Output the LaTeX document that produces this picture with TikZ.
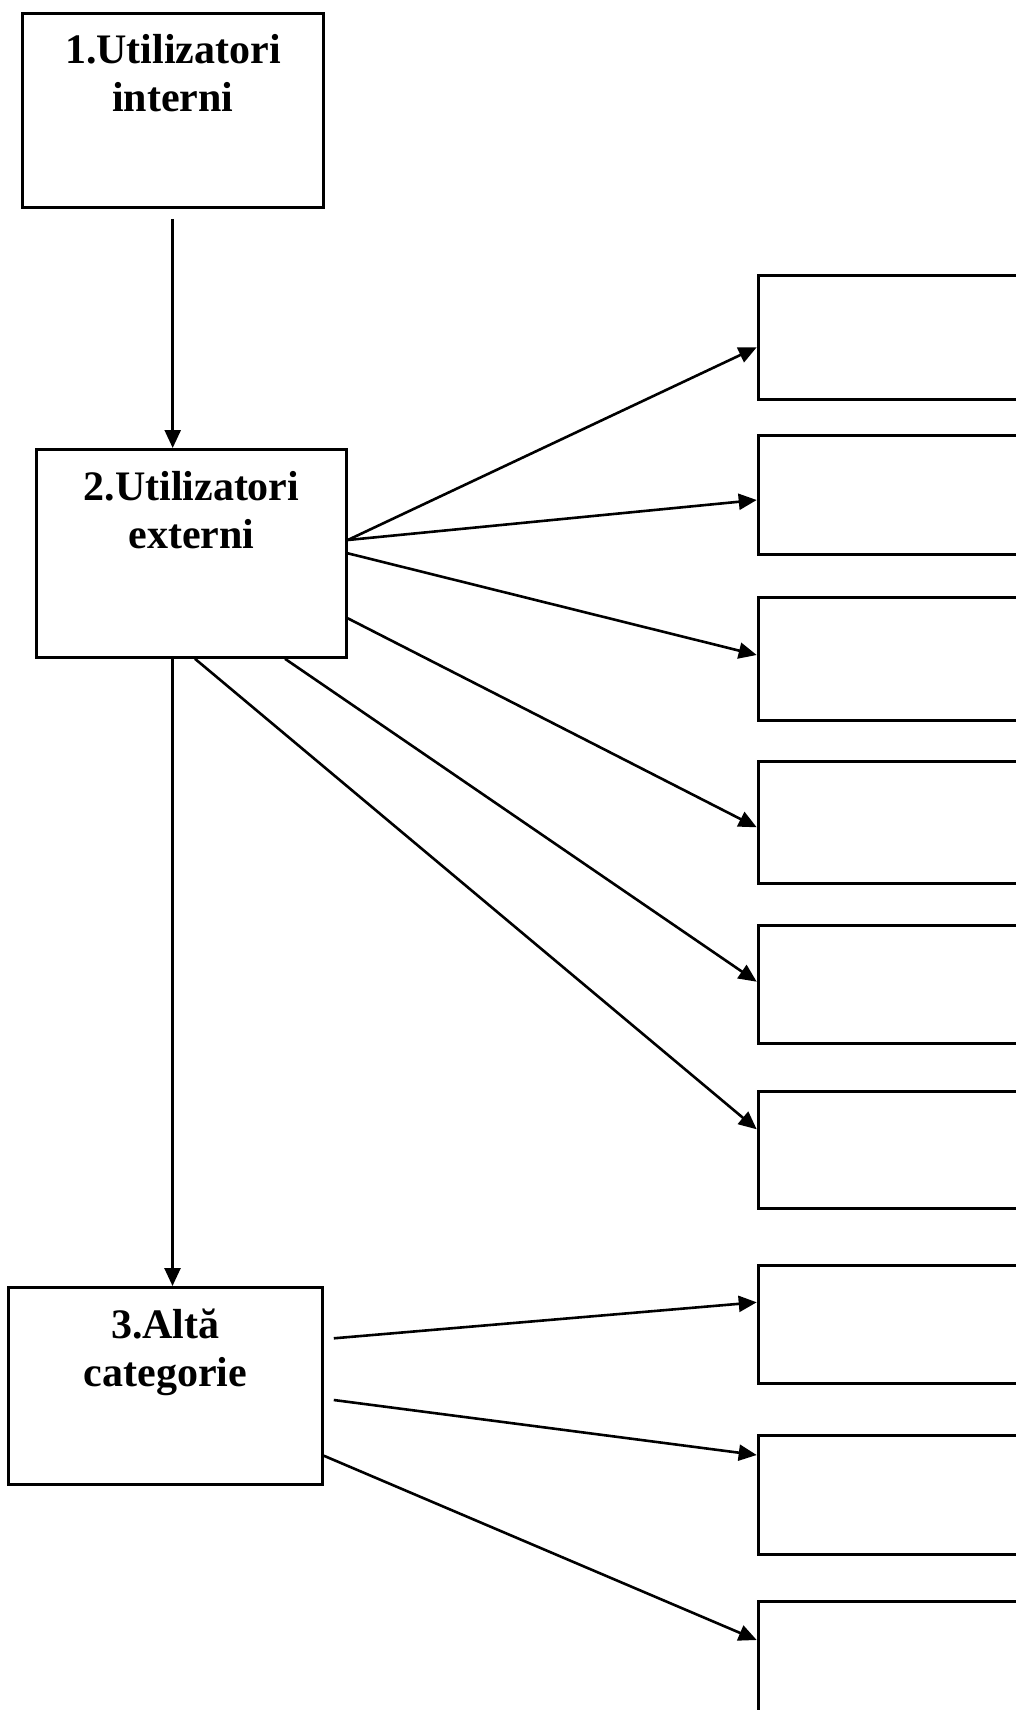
\documentclass[tikz,border=0pt]{standalone}
\usepackage{fontspec}
\setmainfont{Liberation Serif}
\usetikzlibrary{arrows.meta,calc}

\begin{document}
\begin{tikzpicture}[x=1pt,y=-1pt,
  box/.style={draw,line width=2.8pt,rectangle,inner sep=0pt,anchor=north west},
  catbox/.style={box},
  outbox/.style={box,minimum width=320pt},
  lbl/.style={align=center,inner sep=0pt,anchor=base,
    font=\bfseries\fontsize{42}{48}\selectfont},
  link/.style={line width=2.6pt,-{Triangle[length=18pt,width=16pt]}}]

\useasboundingbox (0,0) rectangle (1016,1710);
\clip (0,0) rectangle (1016,1710);

% category boxes on the left
\node[catbox,minimum width=301pt,minimum height=194pt] (b1) at (21,12) {};
\node[catbox,minimum width=310pt,minimum height=208pt] (b2) at (35,448) {};
\node[catbox,minimum width=314pt,minimum height=197pt] (b3) at (7,1286) {};

% labels: the base anchor sits on the second line
\node[lbl] (t1) at ($(b1.north)+(0,99)$) {1.Utilizatori\\interni};
\node[lbl] (t2) at ($(b2.north)+(0,100)$) {2.Utilizatori\\externi};
\node[lbl] (t3) at ($(b3.north)+(0,100)$) {3.Altă\\categorie};

% empty boxes on the right, running past the page edge
\node[outbox,minimum height=123.4pt] (rA) at (756.7,274.3) {};
\node[outbox,minimum height=119.3pt] (rB) at (756.7,434) {};
\node[outbox,minimum height=123.6pt] (rC) at (756.7,595.7) {};
\node[outbox,minimum height=121.4pt] (rD) at (756.7,760.3) {};
\node[outbox,minimum height=117.7pt] (rE) at (756.7,924) {};
\node[outbox,minimum height=117.3pt] (rF) at (756.7,1090) {};
\node[outbox,minimum height=117.7pt] (rG) at (756.7,1264) {};
\node[outbox,minimum height=119.3pt] (rH) at (756.7,1434) {};
\node[outbox,minimum height=160pt]   (rI) at (756.7,1600) {};

% vertical chain 1 -> 2 -> 3
\coordinate (s1) at ($(b1.south west)+(151.7,10)$);
\draw[link] (s1) -- (s1 |- b2.north);
\coordinate (s2) at ($(b2.south west)+(137.5,0)$);
\draw[link] (s2) -- (s2 |- b3.north);

% fan-out from box 2
\draw[link] ($(b2.north east)+(0,92)$)    -- ($(rA.north west)+(0,73)$);
\draw[link] ($(b2.north east)+(0,92)$)    -- ($(rB.north west)+(0,66)$);
\draw[link] ($(b2.north east)+(0,105.3)$) -- ($(rC.north west)+(0,59.3)$);
\draw[link] ($(b2.north east)+(0,170.3)$) -- ($(rD.north west)+(0,67)$);
\draw[link] ($(b2.south west)+(250,0)$)   -- ($(rE.north west)+(0,57.7)$);
\draw[link] ($(b2.south west)+(160,0)$)   -- ($(rF.north west)+(0,39.3)$);

% fan-out from box 3
\draw[link] ($(b3.north east)+(10,52.3)$) -- ($(rG.north west)+(0,38.3)$);
\draw[link] ($(b3.north east)+(10,114)$)  -- ($(rH.north west)+(0,21)$);
\draw[link] ($(b3.north east)+(0,169.7)$) -- ($(rI.north west)+(0,40)$);

\end{tikzpicture}
\end{document}
